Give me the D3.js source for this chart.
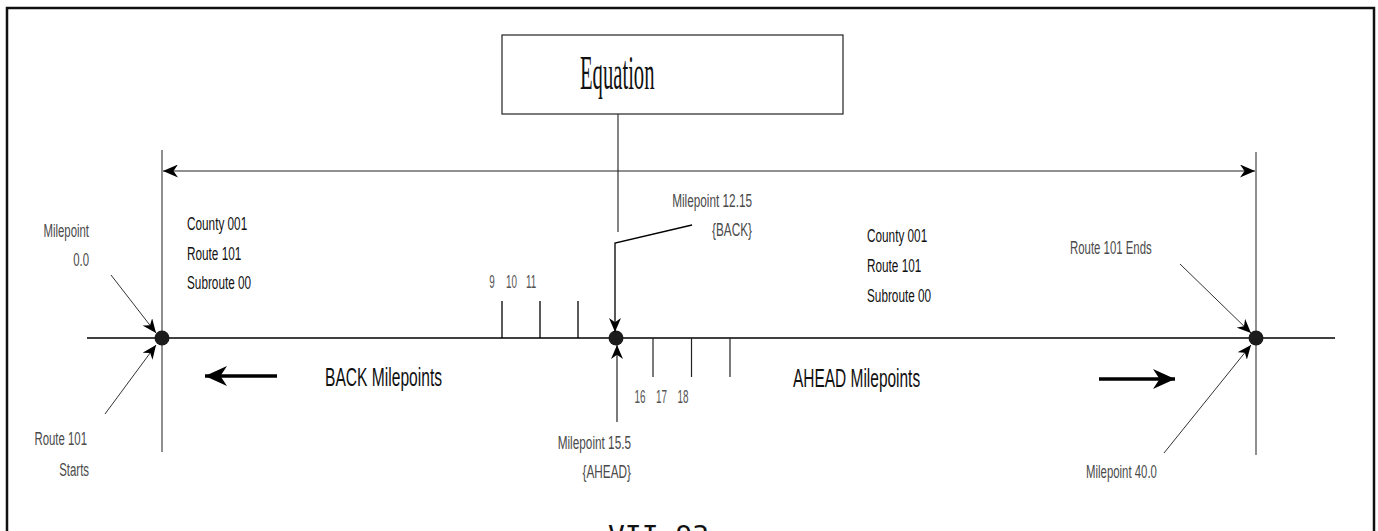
<!DOCTYPE html>
<html>
<head>
<meta charset="utf-8">
<script src="https://cdn.jsdelivr.net/npm/d3@7"></script>
<style>
  body { margin: 0; background: #fff; }
  svg { display: block; }
</style>
</head>
<body>
<div id="chart"></div>
<script>
// milepoint values shown on the diagram
const routeEnds = [0.0, 40.0];          // start, end of route 101
const equationPoints = [12.15, 15.5];   // BACK, AHEAD milepoint at the equation
const backTicks = [9, 10, 11];
const aheadTicks = [16, 17, 18];
const routeInfo = ["County 001", "Route 101", "Subroute 00"];

const W = 1378, H = 531;
const lineY = 338;

const svg = d3.select("#chart").append("svg")
    .attr("width", W)
    .attr("height", H);

// schematic (not to scale) position of milepoints along the route line
const xBack = d3.scaleLinear()
    .domain([routeEnds[0], 9, 11, equationPoints[0]])
    .range([162, 502, 578, 616]);
const xAhead = d3.scaleLinear()
    .domain([equationPoints[1], 16, 18, routeEnds[1]])
    .range([616, 653, 730, 1256]);

// tick labels are packed tighter than the ticks themselves
const backLabelX = d3.scalePoint().domain(backTicks).range([492, 531]);
const aheadLabelX = d3.scalePoint().domain(aheadTicks).range([640, 683]);

const x0 = xBack(routeEnds[0]);
const xEq = xBack(equationPoints[0]);
const x1 = xAhead(routeEnds[1]);

// arrow markers
const defs = svg.append("defs");
function marker(id, len, half, reverse) {
    defs.append("marker")
        .attr("id", id)
        .attr("markerUnits", "userSpaceOnUse")
        .attr("viewBox", `0 0 ${len} ${half * 2}`)
        .attr("markerWidth", len)
        .attr("markerHeight", half * 2)
        .attr("refX", reverse ? 0 : len)
        .attr("refY", half)
        .attr("orient", "auto")
        .append("path")
        .attr("d", reverse
            ? `M0,${half} L${len},0 L${len * 0.7},${half} L${len},${half * 2} Z`
            : `M0,0 L${len},${half} L0,${half * 2} L${len * 0.3},${half} Z`)
        .attr("fill", "#000");
}
marker("arrSmall", 14, 6);
marker("arrDim", 15, 6.5);
marker("arrDimRev", 15, 6.5, true);
marker("arrBig", 22, 10);

function line(pts, opt = {}) {
    const p = svg.append("path")
        .attr("d", d3.line()(pts))
        .attr("fill", "none")
        .attr("stroke", opt.stroke || "#000")
        .attr("stroke-width", opt.width || 1.2);
    if (opt.arrow) p.attr("marker-end", `url(#${opt.arrow})`);
    if (opt.arrowStart) p.attr("marker-start", `url(#${opt.arrowStart})`);
    return p;
}

function label(x, y, txt, opt = {}) {
    svg.append("text")
        .attr("transform", `translate(${x},${y}) scale(${opt.sx || 0.62},1)`)
        .attr("text-anchor", opt.anchor || "start")
        .attr("font-family", opt.family || "'Liberation Sans', Arial, sans-serif")
        .attr("font-size", opt.size || 19)
        .attr("fill", opt.fill || "#000")
        .text(txt);
}

// frame
svg.append("rect")
    .attr("x", 7).attr("y", 8)
    .attr("width", 1367).attr("height", 560)
    .attr("fill", "none")
    .attr("stroke", "#111")
    .attr("stroke-width", 2.5);

// equation box
svg.append("rect")
    .attr("x", 502).attr("y", 35)
    .attr("width", 341).attr("height", 79)
    .attr("fill", "none")
    .attr("stroke", "#222")
    .attr("stroke-width", 1.2);
label(580, 89, "Equation", { family: "'Liberation Serif', 'Times New Roman', serif", size: 48, sx: 0.43, fill: "#111" });
line([[618, 114], [618, 232]], { stroke: "#333" });

// extension lines and overall dimension line
line([[x0, 150], [x0, 452]], { stroke: "#333", width: 1.1 });
line([[x1, 152], [x1, 455]], { stroke: "#333", width: 1.1 });
svg.append("path")
    .attr("d", d3.line()([[x0 + 1, 171], [x1 - 1, 171]]))
    .attr("stroke", "#222")
    .attr("stroke-width", 1.1)
    .attr("marker-start", "url(#arrDimRev)")
    .attr("marker-end", "url(#arrDim)");

// main route line
line([[87, lineY], [1335, lineY]], { width: 1.5 });

// milepoint ticks
svg.selectAll(".tickBack").data(backTicks).enter().append("line")
    .attr("class", "tickBack")
    .attr("x1", d => xBack(d)).attr("x2", d => xBack(d))
    .attr("y1", lineY).attr("y2", lineY - 37)
    .attr("stroke", "#000").attr("stroke-width", 1.3);
svg.selectAll(".tickAhead").data(aheadTicks).enter().append("line")
    .attr("class", "tickAhead")
    .attr("x1", d => xAhead(d)).attr("x2", d => xAhead(d))
    .attr("y1", lineY).attr("y2", lineY + 39)
    .attr("stroke", "#222").attr("stroke-width", 1.2);
backTicks.forEach(d => label(backLabelX(d), 288, String(d), { anchor: "middle", fill: "#555", sx: 0.52 }));
aheadTicks.forEach(d => label(aheadLabelX(d), 403, String(d), { anchor: "middle", fill: "#555", sx: 0.52 }));

// route / equation points
svg.selectAll(".pt").data([x0, xEq, x1]).enter().append("circle")
    .attr("class", "pt")
    .attr("cx", d => d).attr("cy", lineY).attr("r", 7.5)
    .attr("fill", "#1c1c1c");

// equation leaders
line([[692, 225], [xEq - 1, 243], [xEq - 1, lineY - 6]], { arrow: "arrSmall", width: 1.3 });
line([[xEq + 1, 422], [xEq + 1, lineY + 7]], { arrow: "arrSmall", width: 1.2, stroke: "#222" });

// route start / end leaders
line([[111, 275], [x0 - 6, lineY - 5]], { arrow: "arrSmall", stroke: "#333", width: 1 });
line([[105, 414], [x0 - 6, lineY + 7]], { arrow: "arrSmall", stroke: "#333", width: 1 });
line([[1180, 264], [x1 - 5, lineY - 5]], { arrow: "arrSmall", stroke: "#333", width: 1 });
line([[1164, 453], [x1 - 5, lineY + 7]], { arrow: "arrSmall", stroke: "#333", width: 1 });

// direction arrows
line([[277, 376], [205, 376]], { arrow: "arrBig", width: 3.5 });
line([[1099, 379], [1175, 379]], { arrow: "arrBig", width: 3.5 });
label(325, 386, "BACK Milepoints", { size: 26, sx: 0.6, fill: "#111" });
label(793, 387, "AHEAD Milepoints", { size: 26, sx: 0.595, fill: "#111" });

// route info blocks
routeInfo.forEach((t, i) => label(187, 230 + i * 29.5, t, { fill: "#111" }));
routeInfo.forEach((t, i) => label(867, 242 + i * 30, t, { fill: "#111" }));

// annotations
const grey = "#4a4a4a";
label(89, 237, "Milepoint", { anchor: "end", fill: grey, sx: 0.6 });
label(89, 266, routeEnds[0].toFixed(1), { anchor: "end", fill: grey, sx: 0.6 });
label(87, 445, "Route 101", { anchor: "end", fill: grey, sx: 0.6 });
label(89, 476, "Starts", { anchor: "end", fill: grey, sx: 0.6 });

label(752, 207, `Milepoint ${equationPoints[0]}`, { anchor: "end", fill: grey });
label(752, 236, "{BACK}", { anchor: "end", fill: grey });
label(631, 449, `Milepoint ${equationPoints[1]}`, { anchor: "end", fill: grey });
label(631, 478, "{AHEAD}", { anchor: "end", fill: grey });

label(1070, 254, "Route 101 Ends", { fill: grey, sx: 0.6 });
label(1086, 478, `Milepoint ${routeEnds[1].toFixed(1)}`, { fill: grey, sx: 0.6 });

// page number (cut by the bottom edge, as in the source page)
label(608, 546, "VII-93", { family: "'DejaVu Sans Mono', monospace", size: 28, sx: 1, fill: "#111" });
</script>
</body>
</html>
